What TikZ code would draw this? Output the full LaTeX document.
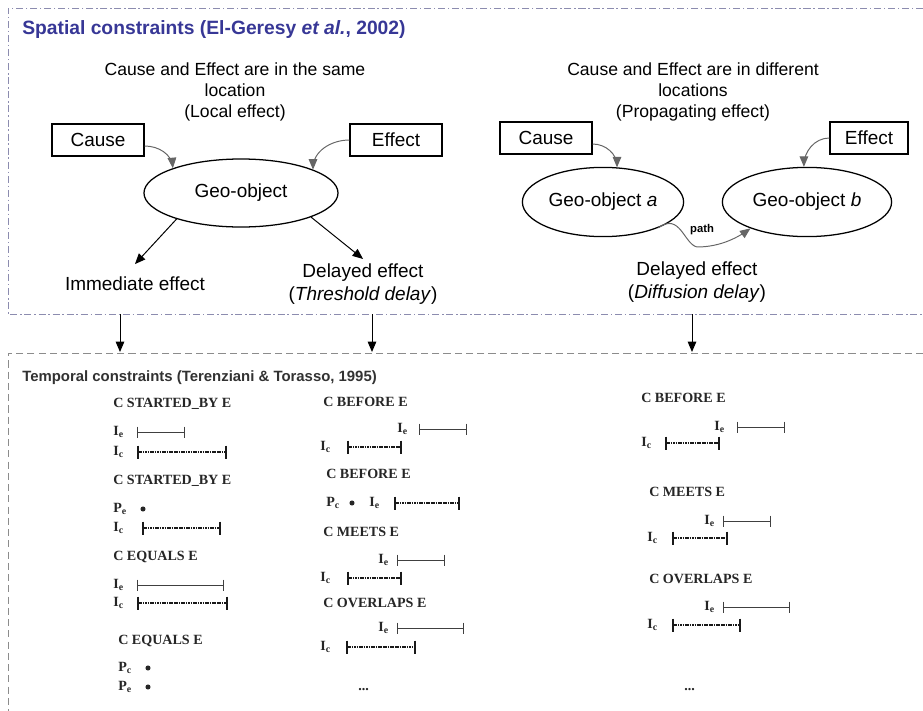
\documentclass[tikz,border=0pt]{standalone}
\usepackage{fontspec}
\setmainfont{Liberation Sans}
\newfontfamily\timesf{Liberation Serif}
\usetikzlibrary{arrows, calc, positioning, shapes.geometric}
\definecolor{titleblue}{RGB}{55,55,150}
\definecolor{titlegray}{RGB}{50,50,50}
\definecolor{framegray}{RGB}{140,140,175}
\newcommand{\boxf}{\fontsize{13.5}{16}\selectfont}
\newcommand{\txtf}{\fontsize{12.5}{15}\selectfont}
\newcommand{\timf}{\timesf\bfseries\fontsize{10}{11}\selectfont}
\tikzset{
  eline/.style={draw=black!75, line width=0.5pt},
  cline/.style={draw=black!90, line width=0.8pt, dash pattern=on 1.2pt off 0.5pt},
  ctick/.style={draw=black!90, line width=1pt}
}
% Khoang thoi gian: x dau, x cuoi, y
\newcommand{\eint}[3]{\draw[eline] (#1,#3) -- (#2,#3);
  \draw[eline] (#1,#3-5.5) -- (#1,#3+5.5) (#2,#3-5.5) -- (#2,#3+5.5);}
\newcommand{\cint}[3]{\draw[cline] (#1,#3) -- (#2,#3);
  \draw[ctick] (#1,#3-6.5) -- (#1,#3+6.5) (#2,#3-6.5) -- (#2,#3+6.5);}

\begin{document}
\begin{tikzpicture}[x=0.025cm, y=-0.025cm, >=triangle 45,
  box/.style={draw, line width=0.8pt, minimum width=2.3cm, minimum height=0.8cm, inner sep=0pt, font=\boxf},
  geo/.style={draw, ellipse, line width=0.9pt, inner sep=0pt, font=\boxf},
  txt/.style={align=center, font=\txtf},
  eff/.style={align=center, font=\boxf},
  garrow/.style={->, draw=black!60, line width=0.7pt},
  barrow/.style={->, line width=0.7pt},
  lab/.style={anchor=west, inner sep=0pt, text=black!85, font=\timf},
  dotn/.style={circle, fill=black!85, inner sep=0pt, minimum size=3.6pt},
  frameA/.style={draw=framegray, line width=0.6pt, dash pattern=on 5pt off 2pt on 1pt off 2pt},
  frameB/.style={draw=black!45, line width=0.6pt, dash pattern=on 5pt off 3pt}]
\useasboundingbox (0,0) rectangle (923,711);

%Khung tren va khung duoi
\draw[frameA] (923,8) -- (8,8) -- (8,314) -- (923,314);
\draw[frameB] (923,353) -- (8,353) -- (8,711);

%Rang buoc khong gian
\node[anchor=west, inner sep=0pt, text=titleblue, font=\bfseries\fontsize{13.7}{16}\selectfont] (ttl1) at (22,30) {Spatial constraints (El-Geresy \textit{et al.}, 2002)};

%Hieu ung tai cho
\node[txt] (loc1) at (235,92) {Cause and Effect are in the same\\location\\(Local effect)};
\node[box] (cause1) at (98,140) {Cause};
\node[box] (eff1) at (396,140) {Effect};
\node[geo, minimum width=4.85cm, minimum height=1.7cm] (geo1) at (241,193) {Geo-object};
\draw[garrow] ([yshift=-0.15cm]cause1.east) to[out=0, in=95] (geo1.160);
\draw[garrow] (eff1.west) to[out=180, in=90] (geo1.18);
\node[eff] (imm1) at (135,284) {Immediate effect};
\node[eff] (del1) at (363,284) {Delayed effect\\(\textit{Threshold delay})};
\draw[barrow] (geo1.202) -- ([yshift=0.2cm]imm1.north);
\draw[barrow] (geo1.341) -- (del1.north);

%Hieu ung lan truyen
\node[txt] (loc2) at (693,92) {Cause and Effect are in different\\locations\\(Propagating effect)};
\node[box] (cause2) at (546,138) {Cause};
\node[box, minimum width=1.95cm] (eff2) at (869,138) {Effect};
\node[geo, minimum width=4.03cm, minimum height=1.73cm] (geoa) at (603,202) {Geo-object \textit{a}};
\node[geo, minimum width=4.23cm, minimum height=1.73cm] (geob) at (807,202) {Geo-object \textit{b}};
\draw[garrow] ([yshift=-0.15cm]cause2.east) to[out=0, in=90] (geoa.68);
\draw[garrow] (eff2.west) to[out=180, in=90] (geob.95);
\coordinate (pth) at (697,247);
\draw[garrow] (geoa.-25) .. controls (680,212) and (684,244) .. (pth) .. controls (722,247) and (740,236) .. (geob.205);
\node[inner sep=0pt, font=\bfseries\fontsize{8}{9}\selectfont] (plbl) at (702,230) {path};
\node[eff] (del2) at (697,282) {Delayed effect\\(\textit{Diffusion delay})};

%Mui ten xuong khung duoi
\coordinate (s1) at (120,314); \coordinate (t1) at (120,352);
\coordinate (s2) at (372,314); \coordinate (t2) at (372,352);
\coordinate (s3) at (692,314); \coordinate (t3) at (692,352);
\draw[barrow] (s1) -- (t1);
\draw[barrow] (s2) -- (t2);
\draw[barrow] (s3) -- (t3);

%Rang buoc thoi gian
\node[anchor=west, inner sep=0pt, text=titlegray, font=\bfseries\fontsize{10.6}{13}\selectfont] (ttl2) at (22,378) {Temporal constraints (Terenziani \& Torasso, 1995)};

%Cot 1
\node[lab] (h11) at (113,404) {C STARTED\_BY E};
\node[lab] (ie11) at (113,432) {I\textsubscript{e}}; \eint{137}{184}{432}
\node[lab] (ic11) at (113,452) {I\textsubscript{c}}; \cint{138}{226}{452}
\node[lab] (h12) at (113,481) {C STARTED\_BY E};
\node[lab] (pe12) at (113,509) {P\textsubscript{e}}; \node[dotn] (dt12) at (143,509) {};
\node[lab] (ic12) at (113,528) {I\textsubscript{c}}; \cint{143}{220}{528}
\node[lab] (h13) at (113,557) {C EQUALS E};
\node[lab] (ie13) at (113,585) {I\textsubscript{e}}; \eint{137}{223}{585}
\node[lab] (ic13) at (113,603) {I\textsubscript{c}}; \cint{138}{227}{603}
\node[lab] (h14) at (118,641) {C EQUALS E};
\node[lab] (pc14) at (118,668) {P\textsubscript{c}}; \node[dotn] (dc14) at (148,668) {};
\node[lab] (pe14) at (118,687) {P\textsubscript{e}}; \node[dotn] (de14) at (148,687) {};

%Cot 2
\node[lab] (h21) at (323,402) {C BEFORE E};
\node[lab] (ie21) at (397,429) {I\textsubscript{e}}; \eint{419}{466}{429}
\node[lab] (ic21) at (320,447) {I\textsubscript{c}}; \cint{348}{401}{447}
\node[lab] (h22) at (326,474) {C BEFORE E};
\node[lab] (pc22) at (326,503) {P\textsubscript{c}}; \node[dotn] (dc22) at (352,503) {};
\node[lab] (ie22) at (369,503) {I\textsubscript{e}}; \cint{395}{459}{503}
\node[lab] (h23) at (323,532) {C MEETS E};
\node[lab] (ie23) at (378,560) {I\textsubscript{e}}; \eint{397}{444}{560}
\node[lab] (ic23) at (320,578) {I\textsubscript{c}}; \cint{348}{401}{578}
\node[lab] (h24) at (323,603) {C OVERLAPS E};
\node[lab] (ie24) at (378,628) {I\textsubscript{e}}; \eint{397}{463}{628}
\node[lab] (ic24) at (320,647) {I\textsubscript{c}}; \cint{347}{415}{647}
\node[lab] (dd2) at (358,690) {...};

%Cot 3
\node[lab] (h31) at (641,398) {C BEFORE E};
\node[lab] (ie31) at (714,427) {I\textsubscript{e}}; \eint{737}{784}{427}
\node[lab] (ic31) at (641,443) {I\textsubscript{c}}; \cint{666}{719}{443}
\node[lab] (h32) at (649,492) {C MEETS E};
\node[lab] (ie32) at (704,521) {I\textsubscript{e}}; \eint{723}{770}{521}
\node[lab] (ic32) at (647,538) {I\textsubscript{c}}; \cint{673}{727}{538}
\node[lab] (h33) at (649,579) {C OVERLAPS E};
\node[lab] (ie33) at (704,607) {I\textsubscript{e}}; \eint{723}{789}{607}
\node[lab] (ic33) at (647,625) {I\textsubscript{c}}; \cint{673}{740}{625}
\node[lab] (dd3) at (684,690) {...};
\end{tikzpicture}
\end{document}
